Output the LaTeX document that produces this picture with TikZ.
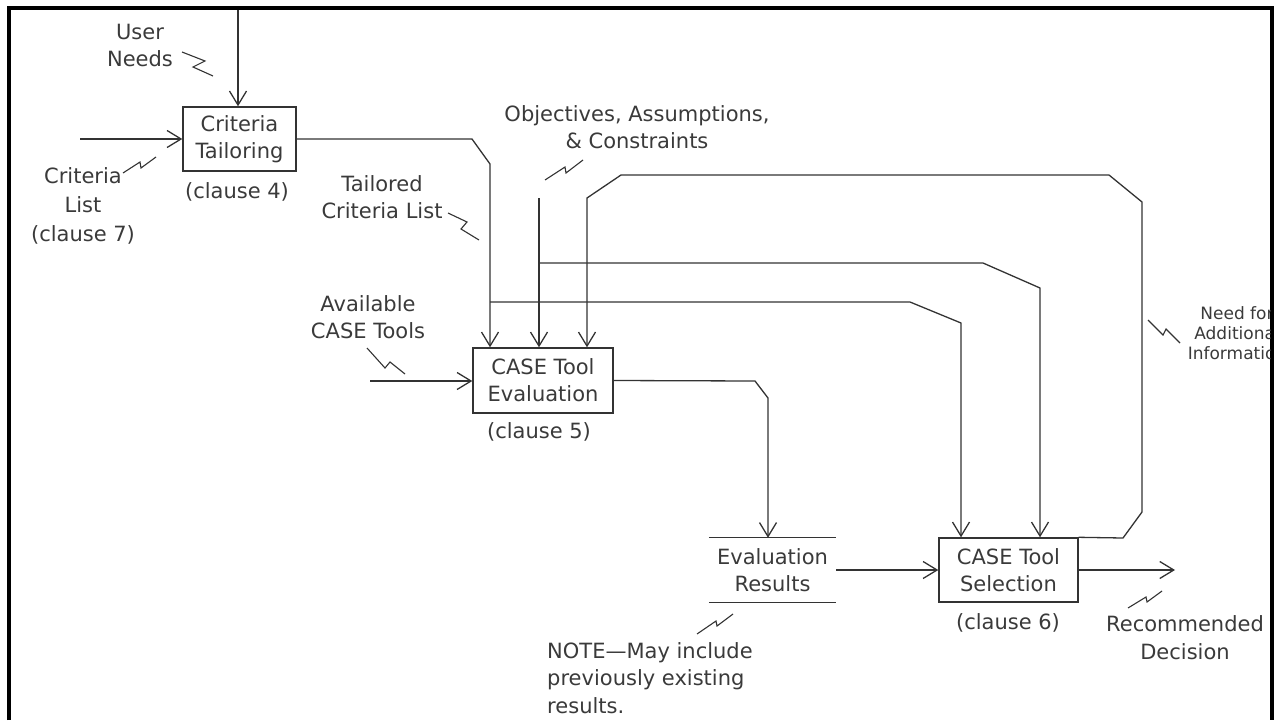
\documentclass[tikz,border=0pt]{standalone}
\usepackage{fontspec}
\setmainfont{DejaVu Sans}
\usetikzlibrary{arrows.meta}
\definecolor{ink}{HTML}{333333}
\definecolor{txt}{HTML}{3A3A3A}
\begin{document}
\begin{tikzpicture}[x=1pt,y=-1pt,
  ln/.style={draw=ink,line width=1.3pt},
  arr/.style={ln,-{Straight Barb[length=14pt,width=17pt]}},
  sq/.style={draw=ink,line width=1.1pt},
  lbl/.style={align=center,font=\fontsize{21}{27}\selectfont,text=txt,inner sep=0pt},
  box/.style={lbl,draw=ink,line width=1.4pt},
  small/.style={align=center,font=\fontsize{17}{20}\selectfont,text=txt,inner sep=0pt}]
\useasboundingbox (0,0) rectangle (1276,720);
% frame
\draw[line width=3.5pt,black] (9,720) -- (9,8) -- (1272,8) -- (1272,720);

% activity boxes
\node[box,minimum width=113pt,minimum height=64pt] (ct) at (239.5,139) {Criteria\\Tailoring};
\node[box,minimum width=140pt,minimum height=65pt] (ev) at (543,380.5) {CASE Tool\\Evaluation};
\node[box,minimum width=139pt,minimum height=64pt] (sel) at (1008.5,570) {CASE Tool\\Selection};
\node[lbl,minimum width=127pt,minimum height=64pt] (er) at (772.5,570) {Evaluation\\Results};
\draw[ln] (er.north west) -- (er.north east);
\draw[ln] (er.south west) -- (er.south east);

% clause labels
\node[lbl] (c4) at (237,192) {(clause 4)};
\node[lbl] (c5) at (539,432) {(clause 5)};
\node[lbl] (c6) at (1008,623) {(clause 6)};

% other labels
\node[lbl,align=center] (lun) at (140,45.5) {User\\Needs};
\node[lbl,font=\fontsize{21}{29}\selectfont] (lcl) at (83,206) {Criteria\\List\\(clause 7)};
\node[lbl] (ltc) at (382,197) {Tailored\\Criteria List};
\node[lbl] (lob) at (637,127) {Objectives, Assumptions,\\\& Constraints};
\node[lbl] (lav) at (368,317) {Available\\CASE Tools};
\node[lbl,font=\fontsize{21}{28}\selectfont] (lrd) at (1185,637.5) {Recommended\\Decision};
\node[lbl,align=left,anchor=west,font=\fontsize{21}{27.5}\selectfont] (lnote) at (547,678) {NOTE—May include\\previously existing\\results.};
\begin{scope}
\clip (0,0) rectangle (1270,720);
\node[small] (lna) at (1237,333) {Need for\\Additional\\Information};
\end{scope}

% coordinates
\coordinate (un) at (238,10);
\coordinate (cl) at (80,139);
\coordinate (t1) at (490,164);
\coordinate (ob) at (539,198);
\coordinate (f1) at (587,198);
\coordinate (av) at (370,381);
\coordinate (e1) at (768,398);
\coordinate (j1) at (490,302);
\coordinate (j2) at (539,263);
\coordinate (b1) at (961,323);
\coordinate (b2) at (1040,288);
\coordinate (rd) at (1175,570);

% connectors
\draw[arr] (un) -- (un |- ct.north);
\draw[arr] (cl) -- (cl -| ct.west);
\draw[arr] (ct.east) -- (472,139) -- (t1) -- (t1 |- ev.north);
\draw[arr] (ob) -- (ob |- ev.north);
\draw[arr] (av) -- (av -| ev.west);
\draw[arr] (ev.east) -- (755,381) -- (e1) -- (e1 |- er.north);
\draw[arr] (er.east) -- (sel.west);
\draw[arr] (sel.east) -- (rd);
\draw[arr] (j1) -- (910,302) -- (b1) -- (b1 |- sel.north);
\draw[arr] (j2) -- (983,263) -- (b2) -- (b2 |- sel.north);
\draw[arr] (sel.north east) -- (1123,538) -- (1142,512) -- (1142,202) -- (1109,175) -- (621,175) -- (f1) -- (f1 |- ev.north);

% squiggles
\draw[sq] (182,52) -- (205,61) -- (193,67) -- (213,76);
\draw[sq] (123,173) -- (140,162) -- (141,168) -- (156,157);
\draw[sq] (448,213) -- (467,222) -- (461,229) -- (479,240);
\draw[sq] (545,180) -- (565,167) -- (566,173) -- (583,160);
\draw[sq] (367,348) -- (385,368) -- (390,362) -- (405,374);
\draw[sq] (697,634) -- (716,621) -- (717,626) -- (733,614);
\draw[sq] (1128,608) -- (1146,597) -- (1147,602) -- (1162,591);
\draw[sq] (1148,320) -- (1163,335) -- (1166,329) -- (1180,343);
\end{tikzpicture}
\end{document}
